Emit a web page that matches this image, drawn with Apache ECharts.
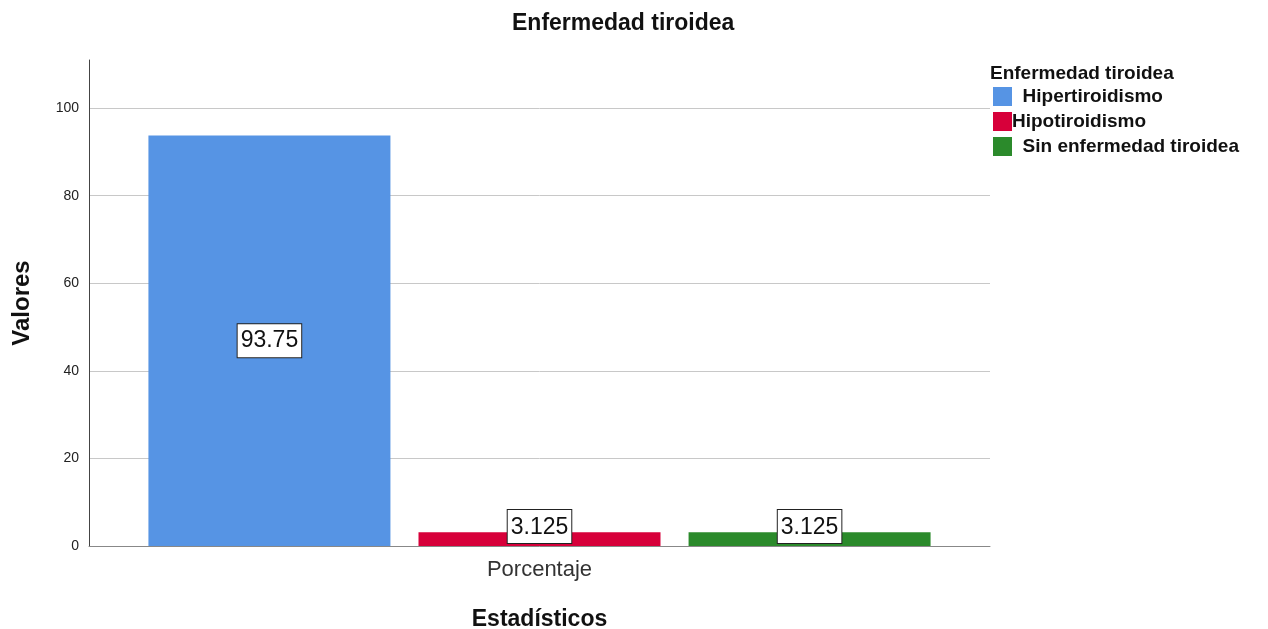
<!DOCTYPE html>
<html>
<head>
<meta charset="utf-8">
<script src="https://cdn.jsdelivr.net/npm/echarts@6/dist/echarts.min.js"></script>
<style>
  html, body { margin: 0; padding: 0; background: #fff; }
  #chart { width: 1268px; height: 629px; }
</style>
</head>
<body>
<div id="chart"></div>
<script>
// Category and series values
var categories = ['Porcentaje'];
var seriesNames = ['Hipertiroidismo', 'Hipotiroidismo', 'Sin enfermedad tiroidea'];
var hipertiroidismo = [93.75];
var hipotiroidismo = [3.125];
var sinEnfermedad = [3.125];
var seriesColors = ['#5694e4', '#d7003a', '#2b8a2b'];

var FONT = '"Liberation Sans", Arial, sans-serif';

// Value label drawn in a white box with a dark border
function boxLabel(position, distance) {
  return {
    show: true,
    position: position,
    distance: distance,
    formatter: function (p) { return String(p.value); },
    fontFamily: FONT,
    fontSize: 23,
    color: '#111',
    backgroundColor: '#fff',
    borderColor: '#222',
    borderWidth: 1,
    padding: [5, 3, 3, 3],
    lineHeight: 25
  };
}

var seriesData = [hipertiroidismo, hipotiroidismo, sinEnfermedad];

var chart = echarts.init(document.getElementById('chart'), null, { renderer: 'canvas' });
chart.setOption({
  animation: false,
  backgroundColor: '#fff',
  title: [
    {
      text: 'Enfermedad tiroidea',
      left: 507, top: 7,
      textStyle: { fontFamily: FONT, fontSize: 23, fontWeight: 'bold', color: '#111' }
    },
    {
      text: 'Enfermedad tiroidea',
      left: 985, top: 59,
      textStyle: { fontFamily: FONT, fontSize: 19, fontWeight: 'bold', color: '#111' }
    }
  ],
  legend: {
    orient: 'vertical',
    left: 988, top: 82,
    itemWidth: 19, itemHeight: 19,
    itemGap: 6,
    icon: 'rect',
    data: seriesNames,
    formatter: function (name) {
      return name === 'Hipotiroidismo' ? name : '  ' + name;
    },
    textStyle: { fontFamily: FONT, fontSize: 19, fontWeight: 'bold', color: '#111', padding: [0, 0, 0, -5] }
  },
  grid: {
    left: 89, right: 278, top: 60, bottom: 83,
    containLabel: false,
    outerBoundsMode: 'none'
  },
  xAxis: {
    type: 'category',
    data: categories,
    name: 'Estadísticos',
    nameLocation: 'middle',
    nameGap: 62,
    nameTextStyle: { fontFamily: FONT, fontSize: 23, fontWeight: 'bold', color: '#111' },
    axisLine: { show: true, lineStyle: { color: '#888', width: 1 } },
    axisTick: { show: false },
    axisLabel: { fontFamily: FONT, fontSize: 22, color: '#333', margin: 13 }
  },
  yAxis: {
    type: 'value',
    min: 0, max: 111, interval: 20,
    name: 'Valores',
    nameLocation: 'middle',
    nameGap: 55,
    nameTextStyle: { fontFamily: FONT, fontSize: 24, fontWeight: 'bold', color: '#111' },
    axisLine: { show: true, lineStyle: { color: '#444', width: 1 } },
    axisTick: { show: false },
    axisLabel: { fontFamily: FONT, fontSize: 14, color: '#222', margin: 10, showMaxLabel: false },
    splitLine: { show: true, showMaxLine: false, lineStyle: { color: '#c8c8c8', width: 1 } }
  },
  series: seriesNames.map(function (name, i) {
    return {
      name: name,
      type: 'bar',
      data: seriesData[i],
      barWidth: 242,
      barGap: '11.6%',
      itemStyle: { color: seriesColors[i] },
      label: i === 0 ? boxLabel('inside', 5) : boxLabel('insideBottom', 3)
    };
  })
});
</script>
</body>
</html>
